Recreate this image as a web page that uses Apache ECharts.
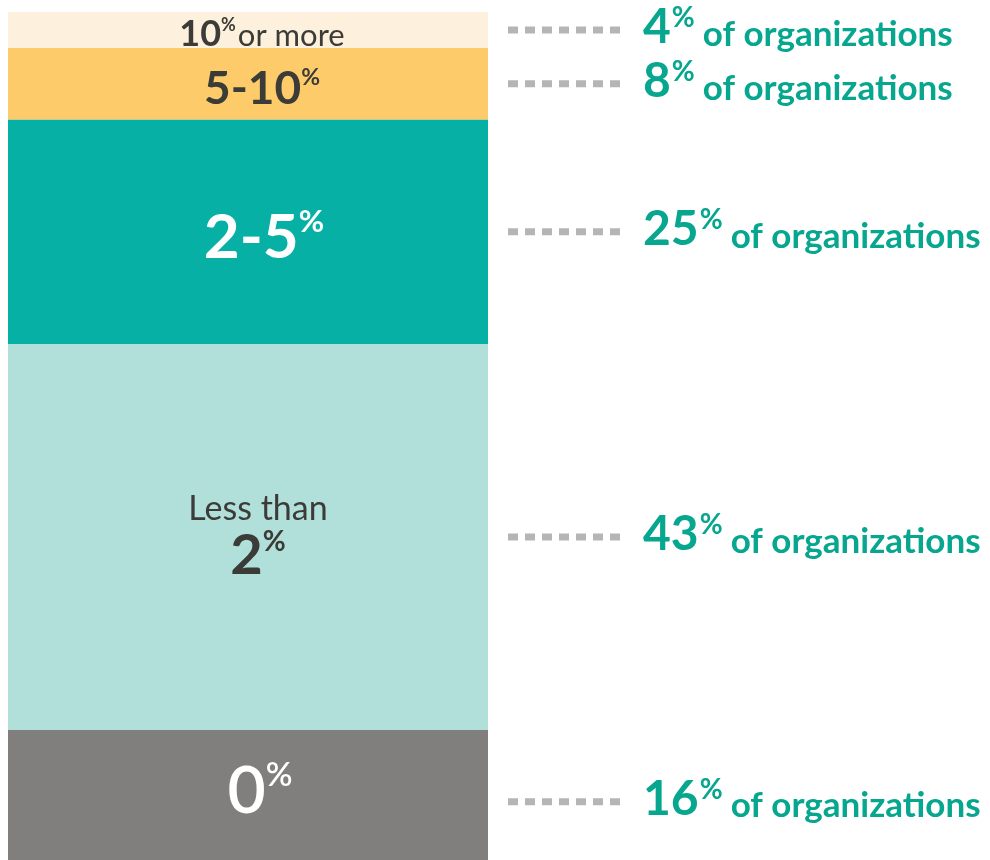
<!DOCTYPE html>
<html>
<head>
<meta charset="utf-8">
<script src="https://cdn.jsdelivr.net/npm/echarts@6/dist/echarts.min.js"></script>
<style>
  html, body { margin: 0; padding: 0; background: #fff; }
  #main { width: 990px; height: 860px; }
</style>
</head>
<body>
<div id="main"></div>
<script>
// share of organizations per band (top to bottom)
var bands = ['10% or more', '5-10%', '2-5%', 'Less than 2%', '0%'];
var shares = [4, 8, 25, 43, 16];
var bandLabels = [
  '{a|10}{s|%}{b|or more}',
  '{a|5-10}{s|%}',
  '{a|2-5}{s|%}',
  '{c|Less than}\n{a|2}{s|%}',
  '{a|0}{s|%}'
];
var rightSuffix = 'of organizations';

var bandColors = ['#fdf0dc', '#fdcb69', '#07b0a5', '#b1dfd9', '#817f7e'];
var dark = '#3b3b38';
var teal = '#06a68f';
var FONT = 'Lato, "Open Sans", sans-serif';

// label sizes / nudges, per band
var bigSize = [36, 46, 62, 56, 66];
var nudge = [[14, 4], [14, 5], [16, 6], [10, 0], [12, -3]];

function insideRich(i) {
  var col = (i == 2 || i == 4) ? '#fff' : dark;
  var big = bigSize[i];
  var w = i == 4 ? 600 : 'bold';
  var sup = Math.round(big * 0.5);
  return {
    a: { fontFamily: FONT, fontSize: big, fontWeight: w, color: col, lineHeight: big, verticalAlign: 'bottom' },
    s: { fontFamily: FONT, fontSize: sup, fontWeight: w, color: col, lineHeight: sup, verticalAlign: 'top' },
    b: { fontFamily: FONT, fontSize: 31, fontWeight: 'normal', color: col, lineHeight: 33, verticalAlign: 'bottom', padding: [0, 0, 0, 2] },
    c: { fontFamily: FONT, fontSize: 34, fontWeight: 'normal', color: col, lineHeight: 38 }
  };
}

var series = bands.map(function (b, i) {
  return {
    type: 'bar',
    name: b,
    stack: 'all',
    barWidth: '100%',
    data: [shares[i]],
    itemStyle: { color: bandColors[i] },
    label: {
      show: true,
      position: 'inside',
      offset: nudge[i],
      formatter: bandLabels[i],
      rich: insideRich(i)
    },
    emphasis: { disabled: true }
  };
});

// cumulative ranges for the callouts on the right
var ranges = [];
var acc = 0;
shares.forEach(function (v) {
  ranges.push([0, acc, acc + v, v]);
  acc += v;
});

series.push({
  type: 'custom',
  data: ranges,
  silent: true,
  renderItem: function (params, api) {
    var p0 = api.coord([0, api.value(1)]);
    var p1 = api.coord([0, api.value(2)]);
    var band = api.size([1, 0])[0];
    var right = p0[0] + band / 2;
    var y = (p0[1] + p1[1]) / 2;
    return {
      type: 'group',
      children: [
        {
          type: 'line',
          shape: { x1: right + 20, y1: y, x2: right + 132, y2: y },
          style: { stroke: '#b5b5b5', lineWidth: 7, lineDash: [10, 7] }
        },
        {
          type: 'text',
          x: right + 155,
          y: y - 2,
          style: {
            text: '{n|' + api.value(3) + '}{p|%}{t|' + rightSuffix + '}',
            align: 'left',
            verticalAlign: 'middle',
            rich: {
              n: { fill: teal, fontFamily: FONT, fontSize: 48, fontWeight: 'bold', lineHeight: 48, verticalAlign: 'bottom' },
              p: { fill: teal, fontFamily: FONT, fontSize: 28, fontWeight: 'bold', lineHeight: 24, verticalAlign: 'top', padding: [0, 0, 0, 1] },
              t: { fill: teal, fontFamily: FONT, fontSize: 35, fontWeight: 'bold', lineHeight: 39, verticalAlign: 'bottom', padding: [0, 0, 0, 8] }
            }
          }
        }
      ]
    };
  }
});

var chart = echarts.init(document.getElementById('main'));
chart.setOption({
  animation: false,
  grid: { left: 8, width: 480, top: 12, bottom: 0 },
  xAxis: { type: 'category', data: ['orgs'], show: false },
  yAxis: { type: 'value', inverse: true, min: 0, max: 94.5, show: false },
  series: series
});
</script>
</body>
</html>
